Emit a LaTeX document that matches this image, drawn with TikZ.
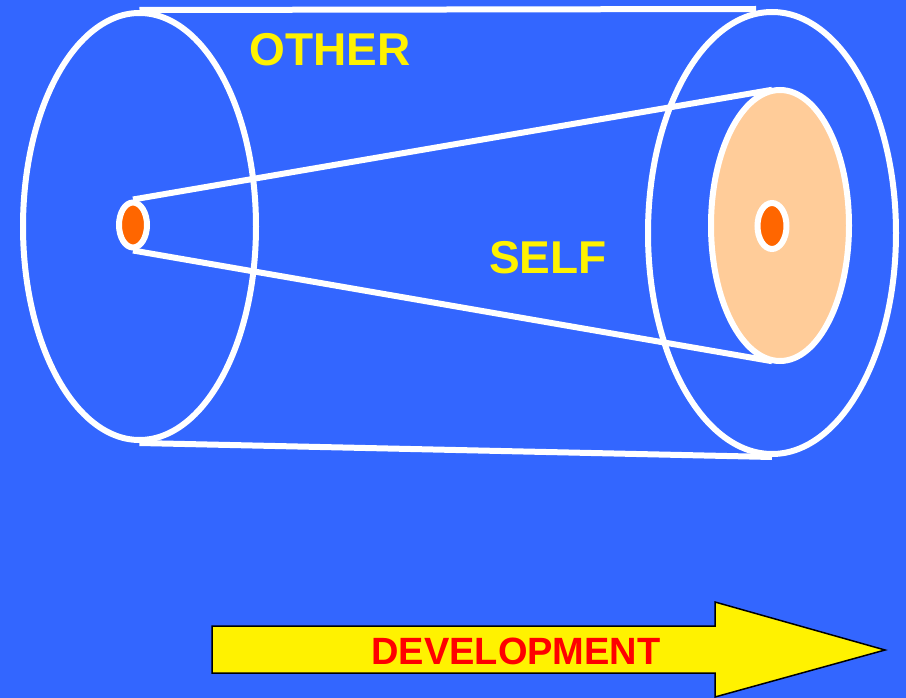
\documentclass[tikz,border=0pt]{standalone}
\usepackage{fontspec}
\setmainfont{Liberation Sans}
\usetikzlibrary{shapes.geometric}

\definecolor{bgblue}{HTML}{3366FF}
\definecolor{coreorange}{HTML}{FF6600}
\definecolor{selfpeach}{HTML}{FFCC99}

\tikzset{
  ring/.style={draw=white, line width=6pt, ellipse, inner sep=0pt},
  edge/.style={draw=white, line width=6pt},
  label/.style={text=yellow, inner sep=0pt, font=\fontsize{46}{50}\selectfont\bfseries}
}

\begin{document}
\begin{tikzpicture}[x=1pt, y=-1pt]
    \fill[bgblue] (0,0) rectangle (906,698);
    \useasboundingbox (0,0) rectangle (906,698);

    % outer cylinder (other)
    \node[ring, minimum width=233pt, minimum height=427pt] (oback) at (139.5,226.5) {};
    \node[ring, minimum width=248pt, minimum height=442pt] (ofront) at (772,233) {};
    \draw[edge] (oback.north) -- ([xshift=-16pt]ofront.north);
    \draw[edge] (oback.south) -- (ofront.south);

    % inner cone (self)
    \node[ring, fill=coreorange, minimum width=28pt, minimum height=45pt] (sback) at (133,225) {};
    \node[minimum width=138pt, minimum height=271pt, ellipse, inner sep=0pt] (sfront) at (780,225.5) {};
    \draw[edge] (sback.north) -- ([xshift=-8pt]sfront.north);
    \draw[edge] (sback.south) -- ([xshift=-8pt]sfront.south);
    \node[ring, fill=selfpeach, minimum width=138pt, minimum height=271pt] at (sfront.center) {};
    \node[ring, fill=coreorange, minimum width=29pt, minimum height=46pt] (score) at (772,226) {};

    \node[label] (other) at (330,50) {OTHER};
    \node[label] (self) at (548,258) {SELF};

    % development arrow
    \draw[fill=yellow, line width=1.5pt, line join=miter]
        (212,626) -- (715,626) -- (715,602) -- (885,650) -- (715,697) -- (715,673) -- (212,673) -- cycle;
    \node[text=red, inner sep=0pt, font=\fontsize{38}{42}\selectfont\bfseries] (dev) at (516,651) {DEVELOPMENT};
\end{tikzpicture}
\end{document}
